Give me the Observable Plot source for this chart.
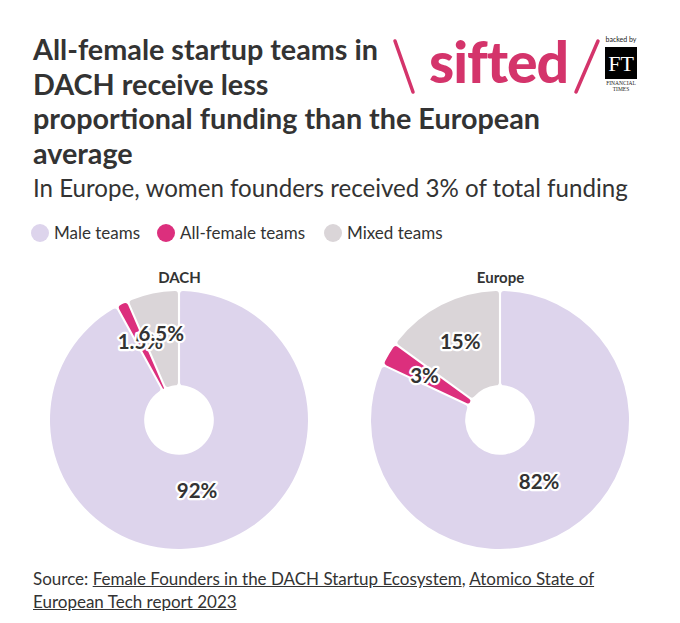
<!DOCTYPE html>
<html><head><meta charset="utf-8">
<script src="https://cdn.jsdelivr.net/npm/d3@7"></script>
<script src="https://cdn.jsdelivr.net/npm/@observablehq/plot@0.6"></script>
<style>
  html,body{margin:0;padding:0;background:#fff;}
  #page{position:relative;width:680px;height:623px;font-family:Lato,"Noto Sans",sans-serif;color:#333;overflow:hidden;}
  .abs{position:absolute;}
  .line{display:block;white-space:nowrap;}
  .line span{display:inline-block;}
  #title{left:33px;top:32px;font-size:26px;font-weight:700;line-height:34.5px;color:#333;margin:0;}
  #subtitle{left:33px;top:174px;font-size:21.5px;line-height:28px;color:#333;white-space:nowrap;}
  #legend{left:31px;top:222px;font-size:17px;white-space:nowrap;}
  #legend .item{position:absolute;top:0;display:flex;align-items:center;}
  #legend .sw{width:18px;height:18px;border-radius:50%;margin-right:5px;flex:none;}
  #chart{left:0;top:255px;}
  #source{left:33px;top:567px;font-size:16.5px;line-height:23px;color:#333;}
  #source a{color:#333;text-decoration:underline;}
  #logo{left:380px;top:20px;overflow:visible;}
</style></head><body>
<div id="page">
  <div id="title" class="abs"><span class="line"><span id="t1">All-female startup teams in</span></span><span class="line">DACH receive less</span><span class="line">proportional funding than the European</span><span class="line">average</span></div>
  <div id="subtitle" class="abs"><span id="st">In Europe, women founders received 3% of total funding</span></div>
  <div id="legend" class="abs"></div>
  <div id="chart" class="abs"></div>
  <div id="source" class="abs"><span class="line"><span id="s1">Source: <a>Female Founders in the DACH Startup Ecosystem</a>, <a>Atomico State of</a></span></span><span class="line"><a>European Tech report 2023</a></span></div>
  <svg id="logo" class="abs" width="290" height="90" viewBox="0 0 290 90">
    <line x1="15" y1="21" x2="33" y2="72" stroke="#d4346b" stroke-width="3.5" stroke-linecap="round"/>
    <text id="sifted" x="49" y="63" font-family="Lato, sans-serif" font-weight="900" font-size="57" fill="#d4346b" letter-spacing="-1">sifted</text>
    <line x1="218" y1="21" x2="196" y2="72" stroke="#d4346b" stroke-width="3.5" stroke-linecap="round"/>
    <text x="241" y="22" font-family="Lato, sans-serif" font-size="7" fill="#222" text-anchor="middle">backed by</text>
    <rect x="225" y="27" width="32" height="32" fill="#000"/>
    <text x="241" y="51" font-family="'Liberation Serif', serif" font-size="22" fill="#fff" text-anchor="middle">FT</text>
    <text x="241" y="65" font-family="'Liberation Serif', serif" font-size="5.5" fill="#222" text-anchor="middle">FINANCIAL</text>
    <text x="241" y="71" font-family="'Liberation Serif', serif" font-size="5.5" fill="#222" text-anchor="middle">TIMES</text>
  </svg>
</div>
<script>
// ---- data ----
const regions = ["DACH", "Europe"];
const teams = ["Male teams", "All-female teams", "Mixed teams"];
const teamColors = ["#ddd4ec", "#dc2f7d", "#dad5d8"];
const dachShares = [92, 1.5, 6.5];
const europeShares = [82, 3, 15];

const rows = [];
regions.forEach((region, i) => {
  const shares = i === 0 ? dachShares : europeShares;
  teams.forEach((team, j) => rows.push({region, team, value: shares[j]}));
});

// fit a text block's font size so a reference span reaches a target width
function fit(container, span, target) {
  const fs = parseFloat(getComputedStyle(container).fontSize);
  const w = span.getBoundingClientRect().width;
  container.style.fontSize = (fs * target / w).toFixed(2) + "px";
}

// legend
const legend = document.getElementById("legend");
const legendX = [0, 126, 293];
teams.forEach((t, i) => {
  const it = document.createElement("div");
  it.className = "item";
  it.style.left = legendX[i] + "px";
  it.innerHTML = `<span class="sw" style="background:${teamColors[i]}"></span><span>${t}</span>`;
  legend.appendChild(it);
});

const fallbackColor = d3.scaleOrdinal(teams, teamColors);

function donuts(index, scales, values, dimensions) {
  const {height, marginTop, marginBottom} = dimensions;
  const R = (height - marginTop - marginBottom) / 2;
  const cy = marginTop + R;
  const inner = R * 0.27;
  const color = scales.color || fallbackColor;
  const g = d3.create("svg:g");
  for (const region of regions) {
    const cx = scales.x(region);
    const data = rows.filter(d => d.region === region);
    const arcs = d3.pie().sort(null).value(d => d.value)(data);
    const arc = d3.arc().innerRadius(inner).outerRadius(R).padAngle(0.016).cornerRadius(3);
    const gg = g.append("g").attr("transform", `translate(${cx},${cy})`);
    gg.selectAll("path").data(arcs).join("path")
      .attr("d", arc)
      .attr("fill", d => color(d.data.team));
    gg.selectAll("text").data(arcs).join("text")
      .attr("transform", d => {
        const a = (d.startAngle + d.endAngle) / 2;
        const share = (d.endAngle - d.startAngle) / (2 * Math.PI);
        const r = share < 0.5 ? R * 0.68 : R * 0.565;
        return `translate(${r * Math.sin(a)},${-r * Math.cos(a)})`;
      })
      .attr("text-anchor", "middle")
      .attr("dy", "0.36em")
      .attr("font-family", "Lato, sans-serif")
      .attr("font-weight", 700)
      .attr("font-size", 20.5)
      .attr("fill", "#333")
      .attr("stroke", "#fff")
      .attr("stroke-width", 4.5)
      .attr("stroke-linejoin", "round")
      .attr("paint-order", "stroke")
      .text(d => `${d.data.value}%`);
  }
  return g.node();
}

const chart = Plot.plot({
  width: 680,
  height: 305,
  marginTop: 36,
  marginBottom: 11,
  marginLeft: 0,
  marginRight: 0,
  x: {type: "point", domain: regions, range: [179, 500], padding: 0, axis: null},
  color: {domain: teams, range: teamColors},
  style: {fontFamily: "Lato, sans-serif", background: "transparent"},
  marks: [
    Plot.text(regions, {x: d => d, frameAnchor: "top", lineAnchor: "bottom", dy: -9,
      text: d => d, fontWeight: 700, fontSize: 15, fill: "#333"}),
    donuts
  ]
});
document.getElementById("chart").appendChild(chart);

fit(document.getElementById("title"), document.getElementById("t1"), 345);
fit(document.getElementById("subtitle"), document.getElementById("st"), 595);
fit(document.getElementById("source"), document.getElementById("s1"), 561);
</script>
</body></html>
